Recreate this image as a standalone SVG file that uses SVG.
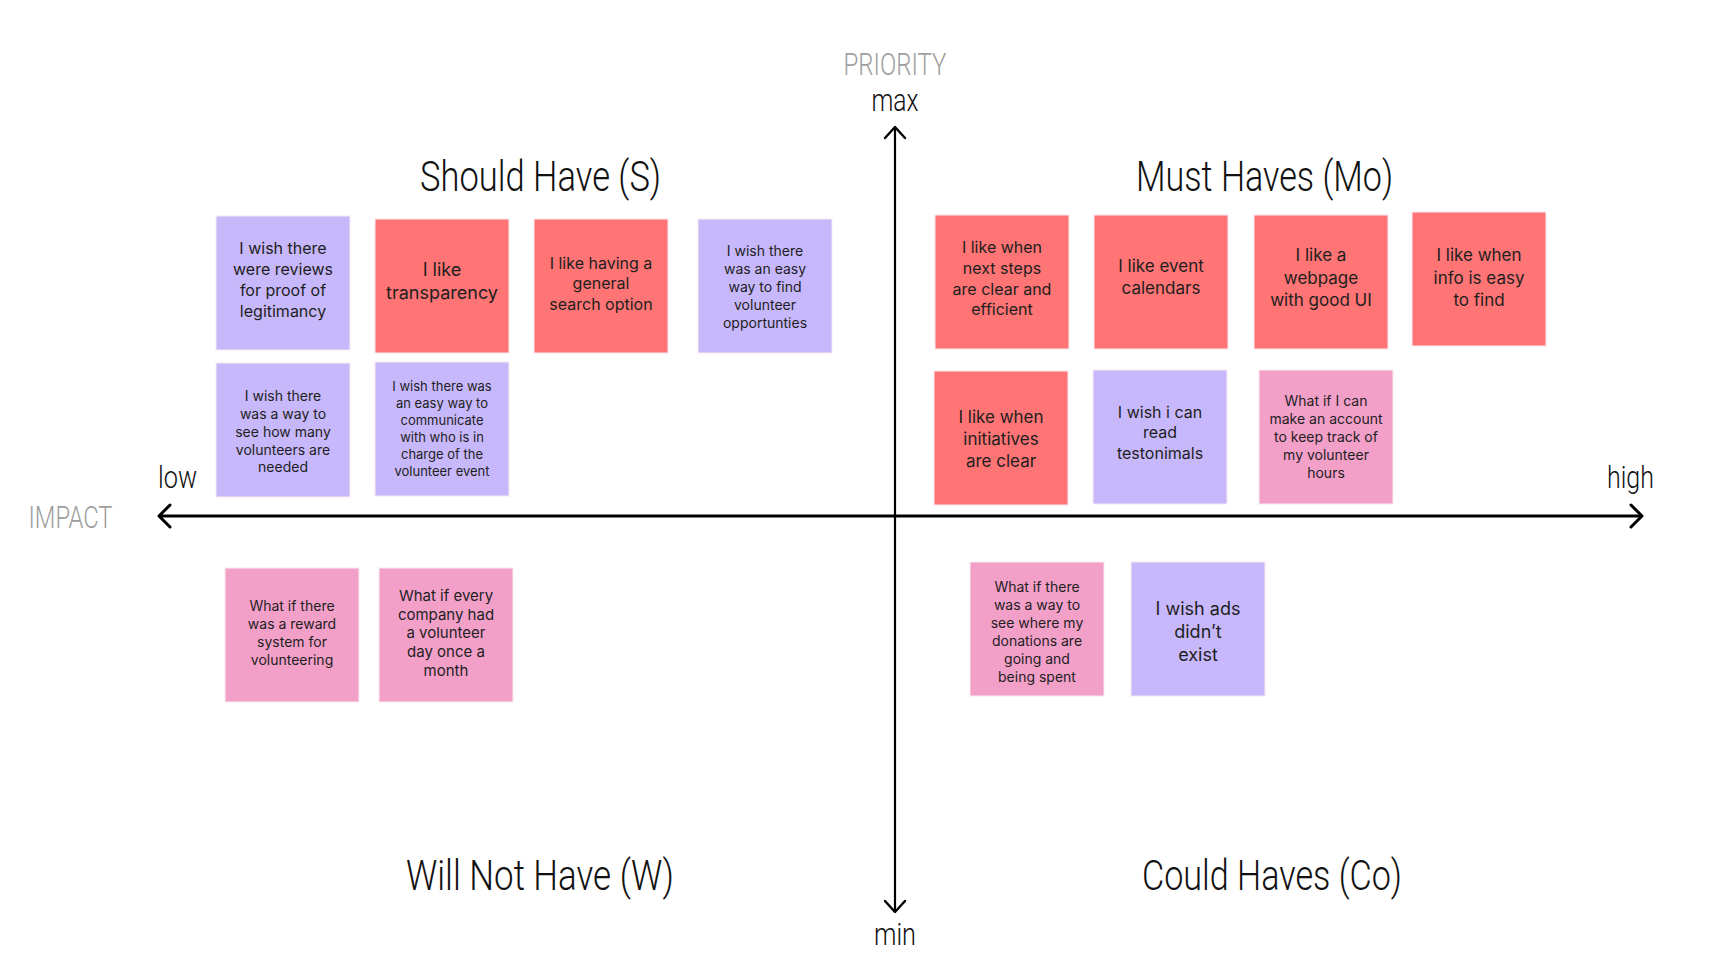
<svg xmlns="http://www.w3.org/2000/svg" width="1716" height="978" viewBox="0 0 1716 978">
<style>
.bg{fill:#ffffff}
.red{fill:#FF7474}
.purple{fill:#C7B8FB}
.pink{fill:#F3A0C9}
.note rect{stroke:#fbe9f0;stroke-width:1}
.nt{font-family:Inter,"Noto Sans",sans-serif;fill:#1e1e1e;text-anchor:middle}
.title{font-family:Roboto,"Liberation Sans",sans-serif;font-weight:300;font-size:43px;fill:#111;text-anchor:middle}
.axl{font-family:Roboto,"Liberation Sans",sans-serif;font-weight:300;font-size:32px;fill:#111}
.gray{fill:#9e9e9e}
.ax{stroke:#000;fill:none;stroke-linecap:round;stroke-linejoin:round}
</style>
<rect class="bg" x="0" y="0" width="1716" height="978"/>

<g id="connectors">
  <line class="ax" x1="895" y1="128" x2="895" y2="911" stroke-width="2.2"/>
  <polyline class="ax" points="885,138 895,127 905,138" stroke-width="2.4"/>
  <polyline class="ax" points="885,901 895,912 905,901" stroke-width="2.4"/>
  <line class="ax" x1="160" y1="516" x2="1641" y2="516" stroke-width="3"/>
  <polyline class="ax" points="170,505 159,516 170,527" stroke-width="3"/>
  <polyline class="ax" points="1631,505 1642,516 1631,527" stroke-width="3"/>
</g>

<g id="axis-labels">
  <text class="axl gray" x="895" y="74.5" text-anchor="middle" textLength="103" lengthAdjust="spacingAndGlyphs">PRIORITY</text>
  <text class="axl" x="895" y="110.5" text-anchor="middle" textLength="47" lengthAdjust="spacingAndGlyphs">max</text>
  <text class="axl" x="895" y="944.5" text-anchor="middle" textLength="42" lengthAdjust="spacingAndGlyphs">min</text>
  <text class="axl" x="158" y="488" textLength="39" lengthAdjust="spacingAndGlyphs">low</text>
  <text class="axl" x="1607" y="488" textLength="47" lengthAdjust="spacingAndGlyphs">high</text>
  <text class="axl gray" x="28.5" y="527.5" textLength="84" lengthAdjust="spacingAndGlyphs">IMPACT</text>
</g>

<g id="quadrant-titles">
  <text class="title" x="540.6" y="191" textLength="241" lengthAdjust="spacingAndGlyphs">Should Have (S)</text>
  <text class="title" x="1264.6" y="191" textLength="257" lengthAdjust="spacingAndGlyphs">Must Haves (Mo)</text>
  <text class="title" x="540" y="890" textLength="268" lengthAdjust="spacingAndGlyphs">Will Not Have (W)</text>
  <text class="title" x="1272" y="890" textLength="260" lengthAdjust="spacingAndGlyphs">Could Haves (Co)</text>
</g>

<!-- Should Have -->
<g id="s1" class="note">
  <rect class="purple" x="216" y="216" width="134" height="134"/>
  <text class="nt" font-size="16"><tspan x="283" y="254.1">I wish there</tspan><tspan x="283" y="274.9">were reviews</tspan><tspan x="283" y="295.7">for proof of</tspan><tspan x="283" y="316.5">legitimancy</tspan></text>
</g>
<g id="s2" class="note">
  <rect class="red" x="375" y="219" width="134" height="134"/>
  <text class="nt" font-size="18"><tspan x="442" y="275.7">I like</tspan><tspan x="442" y="298.7">transparency</tspan></text>
</g>
<g id="s3" class="note">
  <rect class="red" x="534" y="219" width="134" height="134"/>
  <text class="nt" font-size="16"><tspan x="601" y="268.5">I like having a</tspan><tspan x="601" y="289.3">general</tspan><tspan x="601" y="310.1">search option</tspan></text>
</g>
<g id="s4" class="note">
  <rect class="purple" x="698" y="219" width="134" height="134"/>
  <text class="nt" font-size="14"><tspan x="765" y="255.7">I wish there</tspan><tspan x="765" y="273.7">was an easy</tspan><tspan x="765" y="291.7">way to find</tspan><tspan x="765" y="309.7">volunteer</tspan><tspan x="765" y="327.7">opportunties</tspan></text>
</g>
<g id="s5" class="note">
  <rect class="purple" x="216" y="363" width="134" height="134"/>
  <text class="nt" font-size="14"><tspan x="283" y="401.1">I wish there</tspan><tspan x="283" y="418.9">was a way to</tspan><tspan x="283" y="436.7">see how many</tspan><tspan x="283" y="454.5">volunteers are</tspan><tspan x="283" y="472.3">needed</tspan></text>
</g>
<g id="s6" class="note">
  <rect class="purple" x="375" y="362" width="134" height="134"/>
  <text class="nt" font-size="13"><tspan x="442" y="391">I wish there was</tspan><tspan x="442" y="408">an easy way to</tspan><tspan x="442" y="425">communicate</tspan><tspan x="442" y="442">with who is in</tspan><tspan x="442" y="459">charge of the</tspan><tspan x="442" y="476">volunteer event</tspan></text>
</g>

<!-- Must Haves -->
<g id="m1" class="note">
  <rect class="red" x="935" y="215" width="134" height="134"/>
  <text class="nt" font-size="16"><tspan x="1002" y="253">I like when</tspan><tspan x="1002" y="273.8">next steps</tspan><tspan x="1002" y="294.6">are clear and</tspan><tspan x="1002" y="315.4">efficient</tspan></text>
</g>
<g id="m2" class="note">
  <rect class="red" x="1094" y="215" width="134" height="134"/>
  <text class="nt" font-size="17"><tspan x="1161" y="272">I like event</tspan><tspan x="1161" y="294">calendars</tspan></text>
</g>
<g id="m3" class="note">
  <rect class="red" x="1254" y="215" width="134" height="134"/>
  <text class="nt" font-size="17"><tspan x="1321" y="261.2">I like a</tspan><tspan x="1321" y="283.6">webpage</tspan><tspan x="1321" y="306">with good UI</tspan></text>
</g>
<g id="m4" class="note">
  <rect class="red" x="1412" y="212" width="134" height="134"/>
  <text class="nt" font-size="17"><tspan x="1479" y="261.2">I like when</tspan><tspan x="1479" y="283.6">info is easy</tspan><tspan x="1479" y="306">to find</tspan></text>
</g>
<g id="m5" class="note">
  <rect class="red" x="934" y="371" width="134" height="134"/>
  <text class="nt" font-size="17"><tspan x="1001" y="423">I like when</tspan><tspan x="1001" y="445">initiatives</tspan><tspan x="1001" y="467">are clear</tspan></text>
</g>
<g id="m6" class="note">
  <rect class="purple" x="1093" y="370" width="134" height="134"/>
  <text class="nt" font-size="16"><tspan x="1160" y="417.5">I wish i can</tspan><tspan x="1160" y="438.3">read</tspan><tspan x="1160" y="459.1">testonimals</tspan></text>
</g>
<g id="m7" class="note">
  <rect class="pink" x="1259" y="370" width="134" height="134"/>
  <text class="nt" font-size="14"><tspan x="1326" y="405.7">What if I can</tspan><tspan x="1326" y="423.7">make an account</tspan><tspan x="1326" y="441.7">to keep track of</tspan><tspan x="1326" y="459.7">my volunteer</tspan><tspan x="1326" y="477.7">hours</tspan></text>
</g>

<!-- Could Haves -->
<g id="c1" class="note">
  <rect class="pink" x="970" y="562" width="134" height="134"/>
  <text class="nt" font-size="14"><tspan x="1037" y="591.5">What if there</tspan><tspan x="1037" y="609.5">was a way to</tspan><tspan x="1037" y="627.5">see where my</tspan><tspan x="1037" y="645.5">donations are</tspan><tspan x="1037" y="663.5">going and</tspan><tspan x="1037" y="681.5">being spent</tspan></text>
</g>
<g id="c2" class="note">
  <rect class="purple" x="1131" y="562" width="134" height="134"/>
  <text class="nt" font-size="18"><tspan x="1198" y="614.5">I wish ads</tspan><tspan x="1198" y="637.5">didn’t</tspan><tspan x="1198" y="660.5">exist</tspan></text>
</g>

<!-- Will Not Have -->
<g id="w1" class="note">
  <rect class="pink" x="225" y="568" width="134" height="134"/>
  <text class="nt" font-size="14"><tspan x="292" y="611.2">What if there</tspan><tspan x="292" y="629.1">was a reward</tspan><tspan x="292" y="647">system for</tspan><tspan x="292" y="664.9">volunteering</tspan></text>
</g>
<g id="w2" class="note">
  <rect class="pink" x="379" y="568" width="134" height="134"/>
  <text class="nt" font-size="15"><tspan x="446" y="600.8">What if every</tspan><tspan x="446" y="619.6">company had</tspan><tspan x="446" y="638.4">a volunteer</tspan><tspan x="446" y="657.2">day once a</tspan><tspan x="446" y="676">month</tspan></text>
</g>
</svg>
